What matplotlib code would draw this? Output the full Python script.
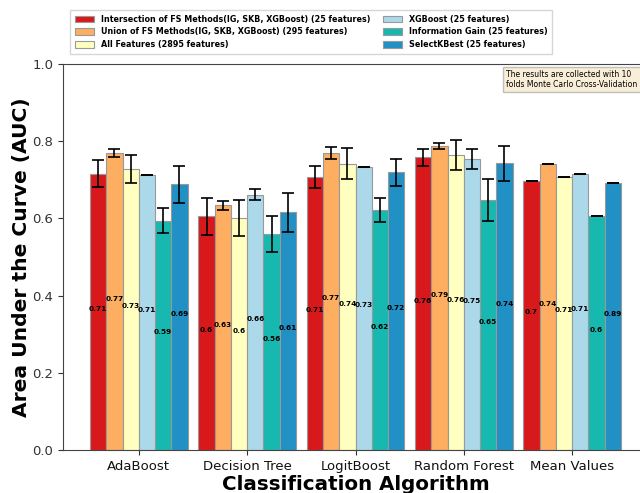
import numpy as np
import matplotlib
matplotlib.use("Agg")
import matplotlib.pyplot as plt

# algorithms on the x axis
algorithms = ['AdaBoost', 'Decision Tree', 'LogitBoost', 'Random Forest', 'Mean Values']

series_names = [
    'Intersection of FS Methods(IG, SKB, XGBoost) (25 features)',
    'Union of FS Methods(IG, SKB, XGBoost) (295 features)',
    'All Features (2895 features)',
    'XGBoost (25 features)',
    'Information Gain (25 features)',
    'SelectKBest (25 features)',
]
colors = ['#d7191c', '#fdae61', '#ffffbf', '#abd9e9', '#17b8b0', '#2190c4']

# mean AUC per series
auc_intersection = [0.716, 0.605, 0.708, 0.758, 0.698]
auc_union = [0.769, 0.634, 0.770, 0.787, 0.740]
auc_all = [0.728, 0.601, 0.742, 0.764, 0.708]
auc_xgb = [0.712, 0.661, 0.734, 0.754, 0.715]
auc_ig = [0.594, 0.560, 0.621, 0.647, 0.606]
auc_skb = [0.689, 0.616, 0.720, 0.743, 0.691]

# std over folds (error bars)
std_intersection = [0.035, 0.048, 0.028, 0.022, 0.0]
std_union = [0.010, 0.012, 0.016, 0.008, 0.0]
std_all = [0.036, 0.047, 0.040, 0.039, 0.0]
std_xgb = [0.0, 0.014, 0.0, 0.025, 0.0]
std_ig = [0.033, 0.046, 0.031, 0.055, 0.0]
std_skb = [0.048, 0.050, 0.035, 0.045, 0.0]

# labels written inside the bars
lbl_intersection = ['0.71', '0.6', '0.71', '0.76', '0.7']
lbl_union = ['0.77', '0.63', '0.77', '0.79', '0.74']
lbl_all = ['0.73', '0.6', '0.74', '0.76', '0.71']
lbl_xgb = ['0.71', '0.66', '0.73', '0.75', '0.71']
lbl_ig = ['0.59', '0.56', '0.62', '0.65', '0.6']
lbl_skb = ['0.69', '0.61', '0.72', '0.74', '0.89']

means = [auc_intersection, auc_union, auc_all, auc_xgb, auc_ig, auc_skb]
stds = [std_intersection, std_union, std_all, std_xgb, std_ig, std_skb]
labels = [lbl_intersection, lbl_union, lbl_all, lbl_xgb, lbl_ig, lbl_skb]

fig = plt.figure(figsize=(6.4, 4.93), dpi=100)
ax = fig.add_axes([63 / 640, 1 - 450 / 493, 585 / 640, 386 / 493])

x = np.arange(len(algorithms))
width = 0.15
for i in range(len(series_names)):
    pos = x + (i - 2.5) * width
    ax.bar(pos, means[i], width, yerr=stds[i], color=colors[i], edgecolor='#999999',
           linewidth=0.8, capsize=4, error_kw=dict(ecolor='black', elinewidth=1.2, capthick=1.2),
           label=series_names[i])
    for xp, m, t in zip(pos, means[i], labels[i]):
        ax.text(xp, m / 2, t, ha='center', va='bottom', fontsize=5.3, fontweight='bold')

ax.set_xlim(-0.7, 4.7)
ax.set_ylim(0, 1.0)
ax.set_xticks(x)
ax.set_xticklabels(algorithms, fontsize=9.5)
ax.tick_params(axis='y', labelsize=9.5, colors='#333333')
ax.tick_params(axis='x', colors='#333333')
for lbl in ax.get_xticklabels():
    lbl.set_color('#111111')
ax.set_xlabel('Classification Algorithm', fontsize=14.3, fontweight='bold', labelpad=2)
ax.set_ylabel('Area Under the Curve (AUC)', fontsize=14.6, fontweight='bold', labelpad=1)
for s in ax.spines.values():
    s.set_color('#444444')

ax.text(0.758, 0.985, 'The results are collected with 10\nfolds Monte Carlo Cross-Validation',
        transform=ax.transAxes, fontsize=5.5, va='top', ha='left',
        bbox=dict(boxstyle='square,pad=0.4', facecolor='#f5deb3', alpha=0.5, edgecolor='#888888'))

leg = fig.legend(loc='upper left', bbox_to_anchor=(66 / 640, 1 - 6 / 493), ncol=2,
                 prop={'size': 5.8, 'weight': 'bold'}, columnspacing=1.6,
                 handlelength=2.4, handleheight=0.9, labelspacing=0.45, borderpad=0.6,
                 frameon=True, fancybox=False)
leg.get_frame().set_edgecolor('#cccccc')

fig.savefig('out.png', dpi=100)
